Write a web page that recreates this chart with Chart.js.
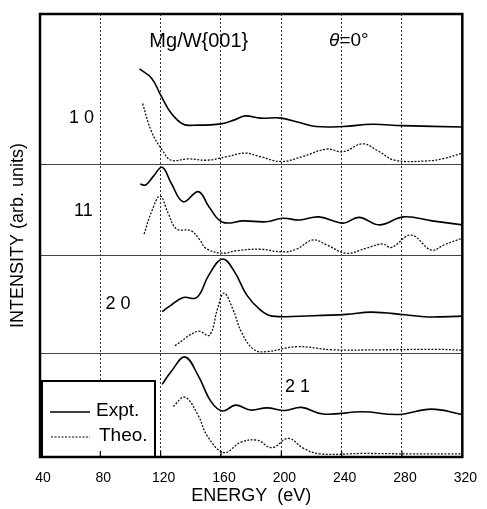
<html>
<head>
<script src="https://cdn.jsdelivr.net/npm/chart.js@4/dist/chart.umd.min.js"></script>
<style>
  body { margin: 0; background: #fff; }
</style>
</head>
<body>
<canvas id="leed" width="487" height="509"></canvas>
<script>
// energy (eV) and stacked intensity (arb. units, panels offset)
var e10x = [106, 114, 120, 127, 135, 142, 160, 169, 176, 186, 200, 212, 223, 241, 260, 280, 320];
var i10x = [87.6, 85.5, 81.7, 77.6, 75.1, 74.9, 75.2, 76.1, 77.0, 76.5, 76.5, 75.5, 74.6, 74.6, 75.1, 74.8, 74.5];
var e10t = [108, 114, 121, 127, 138, 151, 164, 176, 186, 200, 214, 230, 241, 254, 265, 275, 295, 308, 320];
var i10t = [79.8, 73.4, 69.3, 67.0, 67.3, 67.0, 67.8, 68.6, 67.8, 66.7, 67.8, 69.5, 68.9, 70.7, 68.9, 67.0, 66.8, 67.4, 68.6];

var e11x = [106.5, 110, 115, 121, 127, 135, 145, 152, 161, 175, 190, 201, 212, 225, 241, 251.5, 265, 281, 300, 320];
var i11x = [61.6, 61.4, 63.3, 65.4, 61.8, 57.6, 59.9, 56.5, 53.0, 53.3, 53.1, 53.9, 53.5, 54.2, 52.8, 54.1, 52.4, 54.2, 53.3, 52.4];
var e11t = [109, 114, 119.6, 125, 130.5, 140, 146, 150, 160.6, 171, 186, 201, 210, 221, 230, 243, 256, 267, 273, 286, 299.5, 308, 320];
var i11t = [50.3, 55.4, 58.9, 55.0, 51.5, 51.1, 49.0, 47.1, 46.0, 46.6, 46.9, 46.3, 46.9, 49.0, 47.9, 46.0, 47.1, 48.1, 47.3, 50.1, 46.7, 47.9, 49.4];

var e20x = [121, 127, 135, 144, 152, 161, 169, 177, 186, 194, 221, 243, 260, 282, 297, 320];
var i20x = [32.8, 34.3, 36.0, 36.0, 41.1, 44.7, 41.8, 36.6, 33.2, 31.8, 31.9, 32.2, 32.7, 32.1, 31.6, 31.8];
var e20t = [129.4, 144.7, 152.3, 157.8, 162, 167.6, 174, 182, 190.5, 210, 234, 265, 304, 320];
var i20t = [25.1, 28.4, 27.5, 33.6, 37.0, 33.6, 27.9, 24.2, 23.8, 24.9, 24.2, 24.2, 24.3, 24.1];

var e21x = [121, 127, 136, 144.7, 153.4, 161, 169.7, 179.5, 190.5, 202.4, 213.4, 227.6, 253.7, 277.7, 299.5, 320];
var i21x = [16.4, 19.3, 22.6, 18.5, 12.5, 10.4, 11.7, 10.6, 11.1, 10.5, 11.2, 9.7, 10.2, 9.6, 10.8, 9.6];
var e21t = [128.3, 136, 144.7, 151.2, 162, 173, 184, 193.7, 204.7, 214.5, 225.3, 253.7, 286.4, 320];
var i21t = [11.4, 13.5, 9.5, 4.6, 1.0, 3.3, 3.8, 2.1, 4.2, 2.0, 0.7, 0.8, 0.7, 0.7];

var separators = [23.3, 45.4, 66.1];
var xTicks = [40, 80, 120, 160, 200, 240, 280, 320];

var beamLabels = [
  {text: '1 0', e: 67.5, v: 76.5},
  {text: '11', e: 68.8, v: 55.5},
  {text: '2 0', e: 91.7, v: 34.5},
  {text: '2 1', e: 210.7, v: 15.8}
];

var FONT = "'Liberation Sans', Arial, sans-serif";

function pts(xs, ys) {
  return xs.map(function(x, i) { return {x: x, y: ys[i]}; });
}

function expt(xs, ys) {
  return {data: pts(xs, ys), borderColor: '#000', borderWidth: 1.6, pointRadius: 0,
          tension: 0.4, fill: false};
}
function theo(xs, ys) {
  return {data: pts(xs, ys), borderColor: '#111', borderWidth: 1.3, borderDash: [2, 1.5],
          pointRadius: 0, tension: 0.4, fill: false};
}

var decor = {
  id: 'decor',
  afterDraw: function(chart) {
    var ctx = chart.ctx, a = chart.chartArea;
    var xs = chart.scales.x, ys = chart.scales.y;
    ctx.save();

    // small inward ticks on bottom edge
    ctx.strokeStyle = '#000';
    ctx.lineWidth = 1.2;
    xTicks.slice(1, -1).forEach(function(t) {
      var px = xs.getPixelForValue(t);
      ctx.beginPath();
      ctx.moveTo(px, a.bottom);
      ctx.lineTo(px, a.bottom - 6);
      ctx.stroke();
    });

    // legend box
    var lx = a.left + 2, ly = a.bottom - 76, lw = 113, lh = 76;
    ctx.fillStyle = '#fff';
    ctx.fillRect(lx, ly, lw, lh);
    ctx.lineWidth = 2;
    ctx.strokeRect(lx, ly, lw, lh);
    ctx.beginPath();
    ctx.moveTo(px = lx + 8, ly + 31);
    ctx.lineTo(lx + 48, ly + 31);
    ctx.lineWidth = 1.4;
    ctx.stroke();
    ctx.beginPath();
    ctx.setLineDash([2, 1.5]);
    ctx.moveTo(lx + 9, ly + 56);
    ctx.lineTo(lx + 48, ly + 56);
    ctx.lineWidth = 1.2;
    ctx.stroke();
    ctx.setLineDash([]);
    // tick at 80 on the legend's lower edge
    var p80 = xs.getPixelForValue(80);
    ctx.lineWidth = 1.2;
    ctx.beginPath();
    ctx.moveTo(p80, a.bottom);
    ctx.lineTo(p80, a.bottom - 6);
    ctx.stroke();
    ctx.fillStyle = '#000';
    ctx.font = '19px ' + FONT;
    ctx.textBaseline = 'middle';
    ctx.textAlign = 'left';
    ctx.fillText('Expt.', lx + 54, ly + 30);
    ctx.fillText('Theo.', lx + 57, ly + 55);

    // frame
    ctx.lineWidth = 2.5;
    ctx.strokeRect(a.left, a.top, a.right - a.left, a.bottom - a.top);

    // annotations
    ctx.textAlign = 'center';
    ctx.font = '20px ' + FONT;
    ctx.fillText('Mg/W{001}', xs.getPixelForValue(145.3), ys.getPixelForValue(93.7));
    var tx = xs.getPixelForValue(244.8), ty = ys.getPixelForValue(93.9);
    ctx.textAlign = 'left';
    ctx.font = 'italic 19px ' + FONT;
    var tw = ctx.measureText('\u03B8').width;
    ctx.font = '19px ' + FONT;
    var rw = ctx.measureText('=0\u00B0').width;
    var start = tx - (tw + rw) / 2;
    ctx.font = 'italic 19px ' + FONT;
    ctx.fillText('\u03B8', start, ty);
    ctx.font = '19px ' + FONT;
    ctx.fillText('=0\u00B0', start + tw, ty);

    ctx.textAlign = 'center';
    ctx.font = '18px ' + FONT;
    beamLabels.forEach(function(b) {
      ctx.fillText(b.text, xs.getPixelForValue(b.e), ys.getPixelForValue(b.v));
    });
    ctx.restore();
  }
};

var px;

new Chart(document.getElementById('leed'), {
  type: 'line',
  data: {
    datasets: [
      expt(e10x, i10x), theo(e10t, i10t),
      expt(e11x, i11x), theo(e11t, i11t),
      expt(e20x, i20x), theo(e20t, i20t),
      expt(e21x, i21x), theo(e21t, i21t)
    ]
  },
  options: {
    responsive: false,
    animation: false,
    layout: {padding: {top: 14, right: 19, left: 0, bottom: 0}},
    plugins: {legend: {display: false}, tooltip: {enabled: false}},
    scales: {
      x: {
        type: 'linear', min: 40, max: 320,
        afterBuildTicks: function(s) { s.ticks = xTicks.map(function(v) { return {value: v}; }); },
        afterFit: function(s) { s.height = 52; },
        grid: {color: '#333', lineWidth: 1, drawTicks: false},
        border: {display: false, dash: [2, 2]},
        ticks: {color: '#000', padding: 13, labelOffset: 3, font: {family: FONT, size: 14}, maxRotation: 0},
        title: {display: true, text: 'ENERGY  (eV)', color: '#000',
                font: {family: FONT, size: 18}, padding: {top: 0, bottom: 2}}
      },
      y: {
        type: 'linear', min: 0, max: 100,
        afterBuildTicks: function(s) { s.ticks = separators.map(function(v) { return {value: v}; }); },
        afterFit: function(s) { s.width = 40; },
        grid: {color: '#444', lineWidth: 1, drawTicks: false},
        border: {display: false},
        ticks: {display: false},
        title: {display: true, text: 'INTENSITY (arb. units)', color: '#000',
                font: {family: FONT, size: 18}, padding: {top: 7, bottom: 0}}
      }
    }
  },
  plugins: [decor]
});
</script>
</body>
</html>
